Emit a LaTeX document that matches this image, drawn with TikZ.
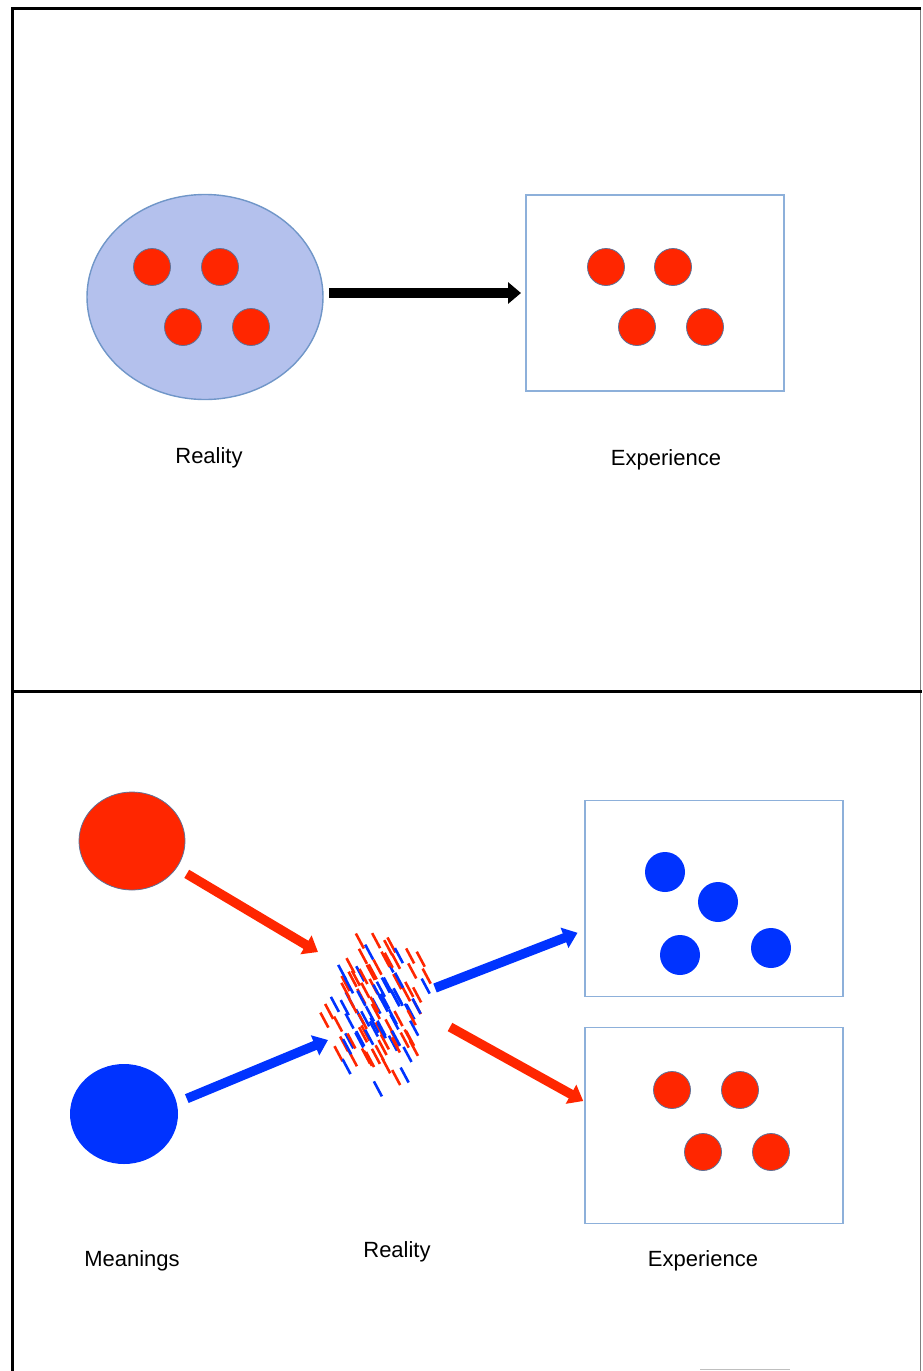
\documentclass[tikz,border=0pt]{standalone}
\usepackage{fontspec}
\setmainfont{Liberation Sans}
\usepackage{tikz}
\usetikzlibrary{calc}
\usetikzlibrary{shapes.geometric}
\usetikzlibrary{arrows.meta,positioning}

\definecolor{mred}{HTML}{FF2600}
\definecolor{mblue}{HTML}{0033FF}
\definecolor{lav}{HTML}{B4C1ED}
\definecolor{lavline}{HTML}{7096C8}
\definecolor{boxline}{HTML}{8DB0DA}
\definecolor{dotline}{HTML}{5F7196}

\tikzset{
	expbox/.style={draw=boxline,line width=1.8pt,fill=white,minimum width=258pt,minimum height=196pt,inner sep=0,outer sep=0},
	reddot/.style={circle,fill=mred,draw=dotline,line width=0.8pt,minimum size=37pt,inner sep=0},
	bluedot/.style={circle,fill=mblue,minimum size=40pt,inner sep=0},
	lbl/.style={font=\fontsize{22}{26}\selectfont,inner sep=0},
	blackarr/.style={line width=10pt,-{Triangle[length=13pt,width=21pt]}},
	redarr/.style={mred,line width=9.5pt,-{Triangle[length=14pt,width=21pt]}},
	bluearr/.style={mblue,line width=9.5pt,-{Triangle[length=14pt,width=21pt]}},
	streak/.style={line width=2.6pt}
}

\begin{document}
\begin{tikzpicture}[x=1pt,y=-1pt]
	\useasboundingbox (0,0) rectangle (922,1371);
	% frame
	\draw[gray,line width=1pt] (920.5,8) -- (920.5,1371);
	\draw[black!25,line width=1.5pt] (700,1369.5) -- (790,1369.5);
	\draw[line width=3pt] (12,1371) -- (12,8) -- (921,8);
	\draw[line width=3pt] (12,691) -- (922,691);

	% top: reality -> experience
	\node[ellipse,draw=lavline,line width=1.4pt,fill=lav,minimum width=236pt,minimum height=205pt,inner sep=0,outer sep=0] (reality) at (205,297) {};
	\foreach \x/\y [count=\i] in {152/267,220/267,183/327,251/327}
		\node[reddot] (rd\i) at (\x,\y) {};
	\node[expbox] (exper) at (655,293) {};
	\foreach \x/\y [count=\i] in {606/267,673/267,637/327,705/327}
		\node[reddot] (ed\i) at (\x,\y) {};
	\draw[blackarr,shorten <=6pt,shorten >=5pt] (reality.east |- exper.west) -- (exper.west);
	\node[lbl] (lblreal) at (209,458) {Reality};
	\node[lbl] (lblexp) at (666,460) {Experience};

	% bottom: meanings -> reality -> experience
	\node[ellipse,fill=mred,draw=dotline,line width=0.8pt,minimum width=106pt,minimum height=98pt,inner sep=0,outer sep=0] (redmean) at (132,841) {};
	\node[ellipse,fill=mblue,minimum width=108pt,minimum height=100pt,inner sep=0,outer sep=0] (bluemean) at (124,1114) {};
	\coordinate (mess) at (379,1008);
	\pgfmathsetseed{5}
	% scattered streaks, denser towards the middle
	\foreach \lim/\ofs in {1/0,0.45/0.5}{
		\foreach \i in {-11,...,11}{
			\foreach \j in {-6,...,6}{
				\pgfmathsetmacro\dx{(\i+\ofs)*6.4+\j*8.5+8*(rnd-0.5)}
				\pgfmathsetmacro\dy{-(\i+\ofs)*3.4+\j*16+12*(rnd-0.5)}
				\pgfmathsetmacro\rr{(\dx/60)^2+(\dy/82)^2}
				\pgfmathtruncatemacro\keep{(\rr<\lim) && (rnd>0.75*\rr) ? 1 : 0}
				\pgfmathtruncatemacro\pick{rnd<0.55-0.4*\rr ? 1 : 0}
				\ifnum\keep=1
					\ifnum\pick=1 \def\dashcol{mblue}\else\def\dashcol{mred}\fi
					\draw[streak,\dashcol] ($(mess)+(\dx,\dy)+(-4,-7.5)$) -- ++(8,15);
				\fi
			}
		}
	}
	\coordinate (redin) at (318,952);
	\coordinate (bluein) at (328,1040);
	\coordinate (blueout) at (435,988);
	\coordinate (redout) at (450,1027);
	\node[expbox] (exp1) at (714,898.5) {};
	\foreach \x/\y [count=\i] in {665/872,718/902,680/955,771/948}
		\node[bluedot] (bd\i) at (\x,\y) {};
	\node[expbox] (exp2) at (714,1125.5) {};
	\foreach \x/\y [count=\i] in {672/1090,740/1090,703/1152,771/1152}
		\node[reddot] (xd\i) at (\x,\y) {};
	\draw[redarr,shorten <=12pt] (redmean.-31) -- (redin);
	\draw[bluearr,shorten <=11pt] (bluemean.12) -- (bluein);
	\draw[bluearr,shorten >=8pt] (blueout) -- ($(exp1.north west)!0.66!(exp1.south west)$);
	\draw[redarr,shorten >=2pt] (redout) -- ($(exp2.north west)!0.38!(exp2.south west)$);
	\node[lbl] (lblmean) at (132,1261) {Meanings};
	\node[lbl] (lblreal2) at (397,1252) {Reality};
	\node[lbl] (lblexp2) at (703,1261) {Experience};
\end{tikzpicture}
\end{document}
